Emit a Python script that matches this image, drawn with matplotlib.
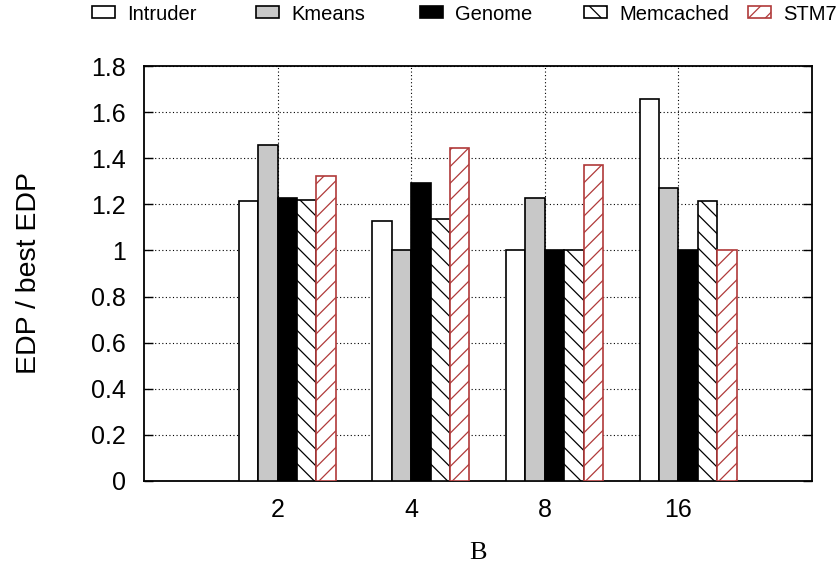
import numpy as np
import matplotlib
matplotlib.use("Agg")
import matplotlib.pyplot as plt

matplotlib.rcParams.update({
    "font.family": ["Liberation Sans", "DejaVu Sans"],
    "hatch.linewidth": 0.9,
})

# EDP normalised to the best configuration, per B value
groups = ["2", "4", "8", "16"]
series = ["Intruder", "Kmeans", "Genome", "Memcached", "STM7"]
intruder = [1.214, 1.129, 1.0, 1.655]
kmeans = [1.457, 1.0, 1.226, 1.272]
genome = [1.227, 1.294, 1.0, 1.0]
memcached = [1.220, 1.138, 1.0, 1.213]
stm7 = [1.323, 1.444, 1.370, 1.0]

values = [intruder, kmeans, genome, memcached, stm7]
styles = [
    dict(facecolor="white", edgecolor="black", hatch=None),
    dict(facecolor="#c8c8c8", edgecolor="black", hatch=None),
    dict(facecolor="black", edgecolor="black", hatch=None),
    dict(facecolor="white", edgecolor="black", hatch="\\\\"),
    dict(facecolor="white", edgecolor="#b03a3a", hatch="//"),
]

fig = plt.figure(figsize=(8.4, 5.69), dpi=100)
ax = fig.add_axes([0.1714, 0.1547, 0.7953, 0.7293])

x = np.arange(len(groups))
w = 0.145
handles = []
for j, (name, vals, st) in enumerate(zip(series, values, styles)):
    b = ax.bar(x + (j - 2) * w, vals, width=w, align="edge", label=name,
               linewidth=1.2, zorder=3, **st)
    handles.append(b)

ax.set_xlim(-1, 4)
ax.set_ylim(0, 1.8)
ax.set_xticks(x)
ax.set_xticklabels(groups)
ax.set_yticks(np.arange(0, 1.81, 0.2))
ax.set_yticklabels(["0", "0.2", "0.4", "0.6", "0.8", "1", "1.2", "1.4", "1.6", "1.8"])
ax.tick_params(axis="y", direction="in", length=6.5, width=1, right=True,
               labelsize=18, pad=13)
ax.tick_params(axis="x", length=0, labelsize=18, pad=12)
ax.grid(True, linestyle=(0, (1, 2.2)), color="black", linewidth=0.8, zorder=0)
for s in ax.spines.values():
    s.set_linewidth(1.3)

ax.set_ylabel("EDP / best EDP", fontsize=20.5)
ax.yaxis.set_label_coords(-0.152, 0.5)
ax.set_xlabel("B", fontsize=19, family="Liberation Serif")
ax.xaxis.set_label_coords(0.5, -0.147)

# legend row above the plot, one evenly spaced entry per series
for k, h in enumerate(handles):
    fig.legend(handles=[h], labels=[series[k]], loc="center left",
               bbox_to_anchor=((92 + 164 * k) / 840, 1 - 14 / 569),
               frameon=False, fontsize=14.5, handlelength=1.15,
               handleheight=0.55, handletextpad=0.6, borderpad=0,
               borderaxespad=0)

fig.savefig("out.png", dpi=100)
